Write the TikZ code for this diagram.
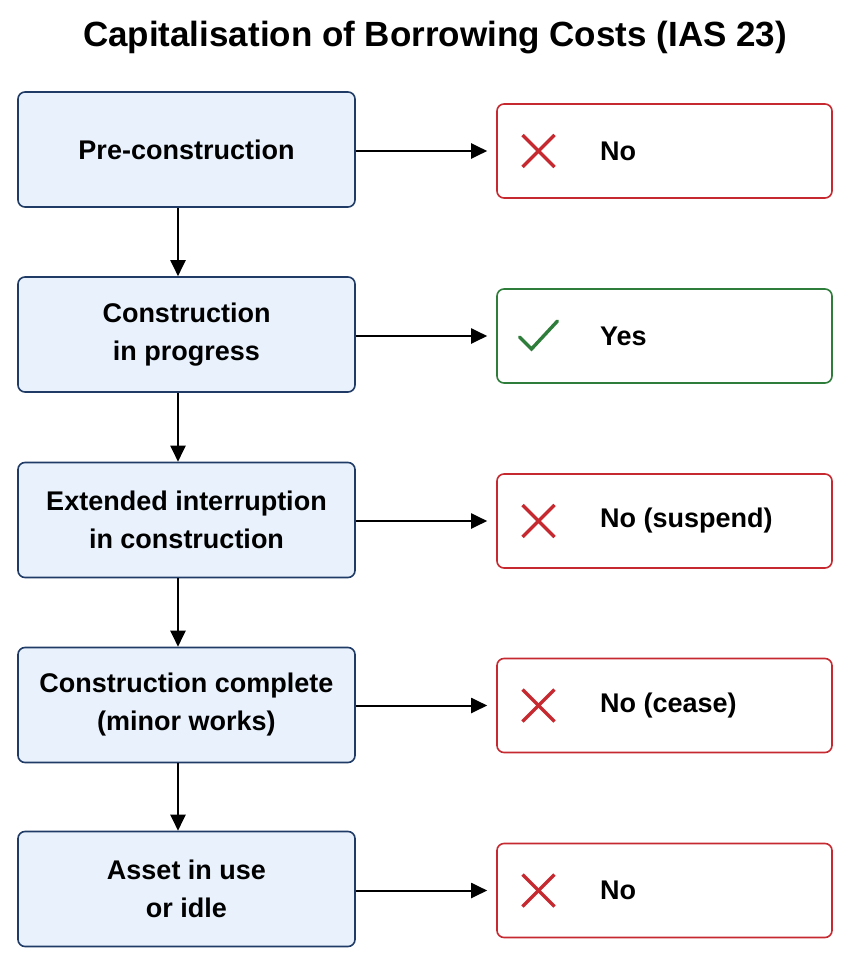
\documentclass[tikz,border=0pt]{standalone}
\usepackage{fontspec}
\setmainfont{Liberation Sans}
\usetikzlibrary{arrows.meta}
\definecolor{bfill}{HTML}{E9F2FC}
\definecolor{bdraw}{HTML}{1F3B66}
\definecolor{xred}{HTML}{C62A30}
\definecolor{okgreen}{HTML}{2E7D3A}
\begin{document}
\begin{tikzpicture}[x=1pt,y=-1pt,
  stage/.style={draw=bdraw,fill=bfill,line width=1.6pt,rounded corners=7pt,minimum width=337pt,minimum height=115pt,align=center,font=\fontsize{27}{38}\selectfont\bfseries},
  res/.style={draw=#1,fill=white,line width=1.6pt,rounded corners=7pt,minimum width=335pt,minimum height=94pt},
  lab/.style={anchor=west,font=\fontsize{27}{32}\selectfont\bfseries},
  arr/.style={-{Triangle[length=16pt,width=15pt]},line width=2pt},
  xmark/.style={xred,line width=3.4pt},
  vmark/.style={okgreen,line width=3.4pt,line cap=round}]
\useasboundingbox (0,0) rectangle (851,966);
\node[font=\fontsize{35}{40}\selectfont\bfseries] (title) at (435,38) {Capitalisation of Borrowing Costs (IAS 23)};
\foreach \i/\y/\t in {1/149.5/Pre-construction,2/334.5/{Construction\\in progress},3/520/{Extended interruption\\in construction},4/705/{Construction complete\\(minor works)},5/889/{Asset in use\\or idle}}{
  \node[stage] (s\i) at (186.5,\y) {\t};
}
\foreach \i/\y/\c in {1/151/xred,2/336/okgreen,3/521/xred,4/705.5/xred,5/890.5/xred}{
  \node[res=\c] (r\i) at (664.5,\y) {};
  \draw[arr,shorten >=9pt] (s\i.east |- r\i.west) -- (r\i.west);
}
\foreach \a/\b in {1/2,2/3,3/4,4/5}{
  \draw[arr] (s\a.south -| 178,0) -- (s\b.north -| 178,0);
}
\foreach \i in {1,3,4,5}{
  \coordinate (c\i) at ([xshift=-126pt]r\i.center);
  \draw[xmark] ([shift={(-16,-16)}]c\i) -- ([shift={(16,16)}]c\i);
  \draw[xmark] ([shift={(-16,16)}]c\i) -- ([shift={(16,-16)}]c\i);
}
\coordinate (c2) at ([xshift=-126pt]r2.center);
\draw[vmark] ([shift={(-19,1)}]c2) -- ([shift={(-7,13)}]c2) -- ([shift={(19,-15)}]c2);
\node[lab] (t1) at ([xshift=-68pt]r1.center) {No};
\node[lab] (t2) at ([xshift=-68pt]r2.center) {Yes};
\node[lab] (t3) at ([xshift=-68pt]r3.center) {No (suspend)};
\node[lab] (t4) at ([xshift=-68pt]r4.center) {No (cease)};
\node[lab] (t5) at ([xshift=-68pt]r5.center) {No};
\end{tikzpicture}
\end{document}
